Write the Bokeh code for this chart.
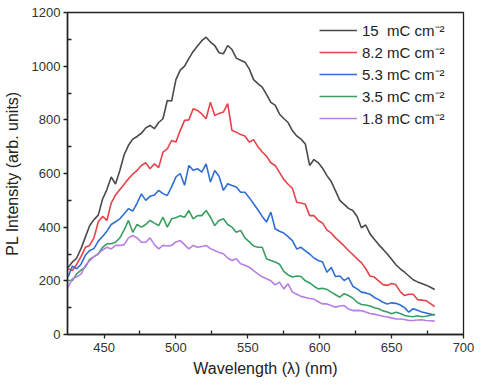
from bokeh.plotting import figure
from bokeh.models import Range1d, FixedTicker, Legend, LegendItem
from bokeh.embed import file_html
from bokeh.resources import INLINE

wavelength = [425, 428, 431, 434, 437, 440, 443, 446, 449, 452, 455, 458, 461, 464, 467, 470,
              473, 476, 479, 482, 485, 488, 491, 494, 497, 500, 503, 506, 509, 512, 515, 518,
              521, 524, 527, 530, 533, 536, 539, 542, 545, 548, 551, 554, 557, 560, 563, 566,
              569, 572, 575, 578, 581, 584, 587, 590, 593, 596, 599, 602, 605, 608, 611, 614,
              617, 620, 623, 626, 629, 632, 635, 638, 641, 644, 647, 650, 653, 656, 659, 662,
              665, 668, 671, 674, 677, 680]

s15 = [250, 270, 285, 320, 363, 405, 428, 445, 505, 540, 587, 561, 611, 670, 705, 728,
       738, 750, 770, 779, 767, 790, 804, 872, 870, 950, 985, 1000, 1028, 1055, 1075, 1095,
       1108, 1090, 1077, 1050, 1046, 1077, 1062, 1030, 1022, 1015, 990, 950, 935, 922, 895, 865,
       855, 822, 805, 790, 760, 740, 728, 710, 630, 652, 640, 620, 592, 570, 535, 500,
       485, 470, 462, 440, 398, 408, 375, 355, 335, 318, 300, 280, 260, 245, 232, 218,
       204, 196, 190, 184, 176, 168]

s82 = [245, 238, 262, 290, 325, 332, 360, 420, 440, 425, 490, 520, 540, 560, 580, 598,
       612, 630, 640, 618, 636, 622, 680, 692, 723, 717, 760, 798, 800, 841, 835, 822,
       804, 866, 816, 824, 829, 860, 760, 754, 745, 740, 717, 726, 700, 680, 665, 640,
       630, 604, 578, 560, 545, 493, 490, 485, 443, 443, 425, 415, 390, 378, 360, 345,
       330, 313, 298, 282, 268, 245, 218, 214, 200, 186, 183, 190, 185, 160, 145, 150,
       150, 130, 128, 126, 115, 104]

s53 = [214, 255, 245, 262, 295, 313, 320, 348, 365, 385, 410, 420, 431, 450, 469, 460,
       490, 524, 500, 515, 520, 537, 525, 518, 550, 587, 600, 556, 630, 612, 618, 605,
       636, 568, 611, 590, 537, 562, 555, 550, 530, 530, 510, 487, 465, 440, 419, 456,
       394, 385, 378, 365, 350, 319, 325, 312, 300, 285, 276, 270, 232, 250, 216, 218,
       201, 212, 180, 170, 158, 155, 150, 138, 130, 120, 114, 118, 116, 110, 100, 83,
       96, 90, 84, 80, 76, 73]

s35 = [201, 201, 226, 240, 251, 280, 290, 300, 325, 338, 338, 344, 360, 390, 425, 381,
       410, 400, 410, 425, 415, 406, 437, 400, 431, 435, 443, 437, 462, 431, 443, 443,
       462, 437, 406, 425, 431, 410, 400, 381, 388, 360, 345, 330, 325, 325, 282, 276,
       270, 262, 235, 222, 214, 218, 216, 200, 192, 180, 170, 172, 168, 158, 148, 139,
       152, 145, 136, 120, 112, 110, 106, 100, 96, 88, 84, 77, 83, 78, 71, 68,
       66, 70, 66, 68, 72, 75]

s18 = [176, 208, 215, 225, 257, 275, 290, 301, 315, 325, 319, 332, 332, 335, 360, 369,
       360, 344, 344, 360, 335, 319, 332, 330, 332, 345, 350, 335, 319, 332, 325, 328,
       332, 320, 313, 306, 301, 285, 276, 282, 264, 258, 251, 238, 226, 215, 208, 200,
       185, 195, 170, 189, 158, 150, 142, 138, 134, 132, 122, 114, 114, 108, 102, 106,
       108, 95, 89, 90, 89, 84, 78, 76, 72, 68, 65, 62, 58, 58, 56, 52,
       52, 54, 55, 52, 51, 50]

labels = ["15  mC cm\u207b\u00b2", "8.2 mC cm\u207b\u00b2", "5.3 mC cm\u207b\u00b2",
          "3.5 mC cm\u207b\u00b2", "1.8 mC cm\u207b\u00b2"]
colors = ["#4a4a4a", "#e8424a", "#2f6fd4", "#3a9e62", "#b77fe6"]
x_ticks = [450, 500, 550, 600, 650, 700]
y_ticks = [0, 200, 400, 600, 800, 1000, 1200]

FONT = "Liberation Sans"

p = figure(width=475, height=379, output_backend="svg", toolbar_location=None,
           x_range=Range1d(424.6, 700), y_range=Range1d(0, 1200),
           min_border_left=62, min_border_right=12, min_border_top=12, min_border_bottom=45)
p.grid.visible = False
p.outline_line_color = "#222222"
p.outline_line_width = 1.3
p.background_fill_color = "white"
p.border_fill_color = "white"

items = []
for ys, c, lab in zip([s15, s82, s53, s35, s18], colors, labels):
    r = p.line(wavelength, ys, line_color=c, line_width=1.6)
    items.append(LegendItem(label=lab, renderers=[r]))

for ax, ticks in ((p.xaxis, x_ticks), (p.yaxis, y_ticks)):
    ax.ticker = FixedTicker(ticks=ticks, minor_ticks=[t + (ticks[1] - ticks[0]) / 2 for t in ticks])
    ax.axis_line_width = 1.5
    ax.axis_line_color = "#222222"
    ax.major_tick_line_color = "#222222"
    ax.minor_tick_line_color = "#222222"
    ax.major_tick_line_width = 1.3
    ax.minor_tick_line_width = 1.3
    ax.major_tick_out = 4
    ax.major_tick_in = 0
    ax.minor_tick_out = 0
    ax.minor_tick_in = 4
    ax.major_label_text_font = FONT
    ax.major_label_text_font_size = "13px"
    ax.major_label_text_color = "#333333"
    ax.axis_label_text_font = FONT
    ax.axis_label_text_font_size = "16px"
    ax.axis_label_text_font_style = "normal"
    ax.axis_label_text_color = "#222222"

p.xaxis.axis_label = "Wavelength (\u03bb) (nm)"
p.yaxis.axis_label = "PL Intensity (arb. units)"
p.xaxis.major_label_standoff = 4
p.xaxis.axis_label_standoff = 5
p.yaxis.major_label_standoff = 3
p.yaxis.axis_label_standoff = 8

legend = Legend(items=items, location=(252, 206))
legend.background_fill_alpha = 0
legend.border_line_alpha = 0
legend.label_text_font = FONT
legend.label_text_font_size = "15px"
legend.label_text_color = "#222222"
legend.glyph_width = 38
legend.glyph_height = 20
legend.label_height = 20
legend.label_standoff = 5
legend.spacing = 2
legend.padding = 0
legend.margin = 0
p.add_layout(legend)

open("out.html", "w").write(file_html(p, INLINE))
